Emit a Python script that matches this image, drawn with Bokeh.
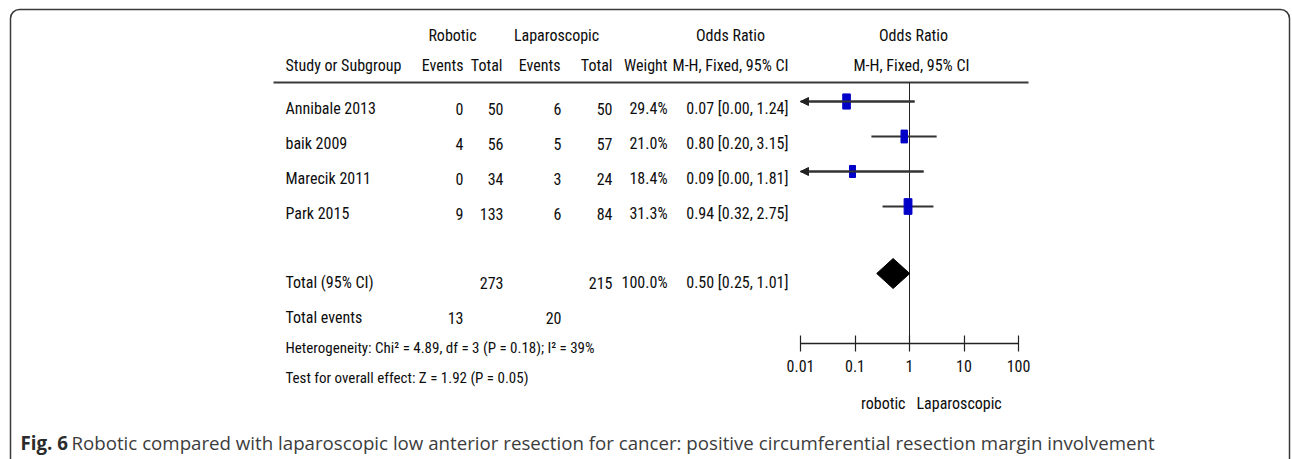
import math
from bokeh.plotting import figure
from bokeh.models import (ColumnDataSource, Range1d, LogScale, LogAxis, FixedTicker,
                          BoxAnnotation, Arrow, NormalHead)
from bokeh.core.properties import value
from bokeh.embed import file_html
from bokeh.resources import INLINE

# ---------------- data ----------------
studies = ["Annibale 2013", "baik 2009", "Marecik 2011", "Park 2015"]
robotic_events = [0, 4, 0, 9]
robotic_total = [50, 56, 34, 133]
lap_events = [6, 5, 3, 6]
lap_total = [50, 57, 24, 84]
weights = [29.4, 21.0, 18.4, 31.3]
odds_ratio = [0.07, 0.80, 0.09, 0.94]
ci_lower = [0.00, 0.20, 0.00, 0.32]
ci_upper = [1.24, 3.15, 1.81, 2.75]

pooled_or = 0.50
pooled_lower = 0.25
pooled_upper = 1.01
pooled_weight = 100.0
robotic_total_n = 273
lap_total_n = 215
robotic_total_events = 13
lap_total_events = 20
heterogeneity_text = "Heterogeneity: Chi\u00b2 = 4.89, df = 3 (P = 0.18); I\u00b2 = 39%"
overall_text = "Test for overall effect: Z = 1.92 (P = 0.05)"

axis_ticks = [0.01, 0.1, 1, 10, 100]
axis_tick_labels = ["0.01", "0.1", "1", "10", "100"]
favours_left = "robotic"
favours_right = "Laparoscopic"
caption_bold = "Fig. 6"
caption_text = ("Robotic compared with laparoscopic low anterior resection for cancer: "
                "positive circumferential resection margin involvement")

# ---------------- layout (page pixel coordinates) ----------------
W, H = 1292, 459
FONT = "Roboto Condensed, Noto Sans Condensed, Liberation Sans Narrow, Liberation Sans, sans-serif"
FS = "16px"
FS_FOOT = "15px"
TXT = "#0d0d0d"
forest_px_left, forest_px_right = 800, 1018
decade = (forest_px_right - forest_px_left) / (math.log10(axis_ticks[-1]) - math.log10(axis_ticks[0]))
log_lo = math.log10(axis_ticks[0]) - forest_px_left / decade
log_hi = math.log10(axis_ticks[-1]) + (W - forest_px_right) / decade

first_row, row_step, text_dy = 101, 35, 7
total_row = 273
events_y, het_y, test_y = 317, 347, 377
head1_y, head2_y, rule_y, axis_y = 35, 65, 82, 343

name_x = 285
col_right = dict(rev=463, rtot=503, lev=561, ltot=612, w=667, orr=788)

p = figure(width=W, height=H, x_range=Range1d(0, W), y_range=Range1d(H, 0),
           x_axis_type=None, y_axis_type=None, toolbar_location=None,
           output_backend="svg", min_border=0, outline_line_color=None,
           background_fill_color="white", border_fill_color="white")
p.extra_x_ranges = {"or": Range1d(10 ** log_lo, 10 ** log_hi)}
p.extra_x_scales = {"or": LogScale()}
p.xgrid.visible = False
p.ygrid.visible = False


def txt(xs, ys, texts, align="left", size=FS, color=TXT, style="normal", font=FONT, **kw):
    src = ColumnDataSource(dict(x=list(xs), y=list(ys), t=list(texts)))
    p.text(x="x", y="y", text="t", source=src, text_align=align, text_baseline="middle",
           text_font=value(font), text_font_size=size, text_color=color,
           text_font_style=style, **kw)


n = len(studies)
row_y = [first_row + i * row_step for i in range(n)]
text_y = [y + text_dy for y in row_y]

# header
txt([452, 556], [head1_y] * 2, ["Robotic", "Laparoscopic"], align="center")
txt([730], [head1_y], ["Odds Ratio"], align="center")
txt([name_x], [head2_y], ["Study or Subgroup"])
txt([col_right["rev"], col_right["rtot"] - 1, col_right["lev"] - 1, col_right["ltot"],
     col_right["w"], col_right["orr"]], [head2_y] * 6,
    ["Events", "Total", "Events", "Total", "Weight", "M-H, Fixed, 95% CI"], align="right")
p.segment(x0=[273], y0=[rule_y], x1=[1028], y1=[rule_y], line_color="#3a3a3a", line_width=2.2)

# study rows
txt([name_x] * n, text_y, studies)
txt([col_right["rev"]] * n, text_y, [str(v) for v in robotic_events], align="right")
txt([col_right["rtot"]] * n, text_y, [str(v) for v in robotic_total], align="right")
txt([col_right["lev"]] * n, text_y, [str(v) for v in lap_events], align="right")
txt([col_right["ltot"]] * n, text_y, [str(v) for v in lap_total], align="right")
txt([col_right["w"]] * n, text_y, [f"{w:.1f}%" for w in weights], align="right")
txt([col_right["orr"]] * n, text_y,
    [f"{o:.2f} [{l:.2f}, {h:.2f}]" for o, l, h in zip(odds_ratio, ci_lower, ci_upper)], align="right")

# totals
ty = total_row + text_dy + 2
txt([name_x], [ty], ["Total (95% CI)"])
txt([col_right["rtot"]], [ty], [str(robotic_total_n)], align="right")
txt([col_right["ltot"]], [ty], [str(lap_total_n)], align="right")
txt([col_right["w"]], [ty], [f"{pooled_weight:.1f}%"], align="right")
txt([col_right["orr"]], [ty], [f"{pooled_or:.2f} [{pooled_lower:.2f}, {pooled_upper:.2f}]"], align="right")
txt([name_x], [events_y], ["Total events"])
txt([col_right["rev"]], [events_y], [str(robotic_total_events)], align="right")
txt([col_right["lev"]], [events_y], [str(lap_total_events)], align="right")
txt([name_x], [het_y], [heterogeneity_text], size=FS_FOOT)
txt([name_x], [test_y], [overall_text], size=FS_FOOT)

# ---------------- forest panel ----------------
axis_min = axis_ticks[0]
txt([1], [head1_y], ["Odds Ratio"], align="center", x_range_name="or", x_offset=4)
txt([1], [head2_y], ["M-H, Fixed, 95% CI"], align="center", x_range_name="or", x_offset=2)

# null line
p.segment(x0=[1], y0=[rule_y], x1=[1], y1=[axis_y], x_range_name="or",
          line_color="#222222", line_width=1)

ci_src = ColumnDataSource(dict(
    lo=[max(l, axis_min) for l in ci_lower], hi=ci_upper, y=row_y, est=odds_ratio,
    h=[2.8 * math.sqrt(w) for w in weights], w=[1.4 * math.sqrt(w) for w in weights]))
p.segment(x0="lo", y0="y", x1="hi", y1="y", source=ci_src, x_range_name="or",
          line_color="#333333", line_width=1.8)
p.rect(x="est", y="y", width="w", height="h", width_units="screen", height_units="screen",
       source=ci_src, x_range_name="or", fill_color="#0000c8", line_color="#0000c8")

clip_idx = [i for i in range(n) if ci_lower[i] < axis_min]
arrow_src = ColumnDataSource(dict(x0=[ci_upper[i] for i in clip_idx], x1=[axis_min] * len(clip_idx),
                                  y=[row_y[i] for i in clip_idx]))
p.add_layout(Arrow(x_start="x0", y_start="y", x_end="x1", y_end="y", source=arrow_src,
                   x_range_name="or", line_color="#333333", line_width=1.8,
                   end=NormalHead(size=8, fill_color="#222222", line_color="#222222", line_width=1)))

# pooled diamond
dh = 15
p.patch(x=[pooled_lower, pooled_or, pooled_upper, pooled_or],
        y=[total_row, total_row - dh, total_row, total_row + dh],
        x_range_name="or", fill_color="black", line_color="black")

# log axis placed inside the panel
ax = LogAxis(x_range_name="or", ticker=FixedTicker(ticks=axis_ticks),
             bounds=(axis_ticks[0], axis_ticks[-1]), fixed_location=axis_y,
             major_label_overrides={t: l for t, l in zip(axis_ticks, axis_tick_labels)},
             major_tick_in=8, major_tick_out=8, minor_tick_in=0, minor_tick_out=0,
             axis_line_color="#222222", axis_line_width=1.5,
             major_tick_line_color="#222222", major_tick_line_width=1.2,
             major_label_standoff=8, major_label_text_font=FONT,
             major_label_text_font_size=FS, major_label_text_color=TXT)
p.add_layout(ax, "below")

txt([1], [403], [favours_left], align="right", x_range_name="or", x_offset=-4)
txt([1], [403], [favours_right], align="left", x_range_name="or", x_offset=7)

# caption
CAP_FONT = "Open Sans"
CAP_FS = "18.7px"
txt([20], [442], [caption_bold], size=CAP_FS, color="#2b2b2b", style="bold", font=CAP_FONT)
txt([71], [442], [caption_text], size=CAP_FS, color="#3c3c3c", font=CAP_FONT)

# frame border
p.add_layout(BoxAnnotation(left=10, right=1289, top=9, bottom=475, border_radius=9,
                           fill_alpha=0, line_color="#3a3a3a", line_alpha=1.0, line_width=1.5))

open("out.html", "w").write(file_html(p, INLINE))
